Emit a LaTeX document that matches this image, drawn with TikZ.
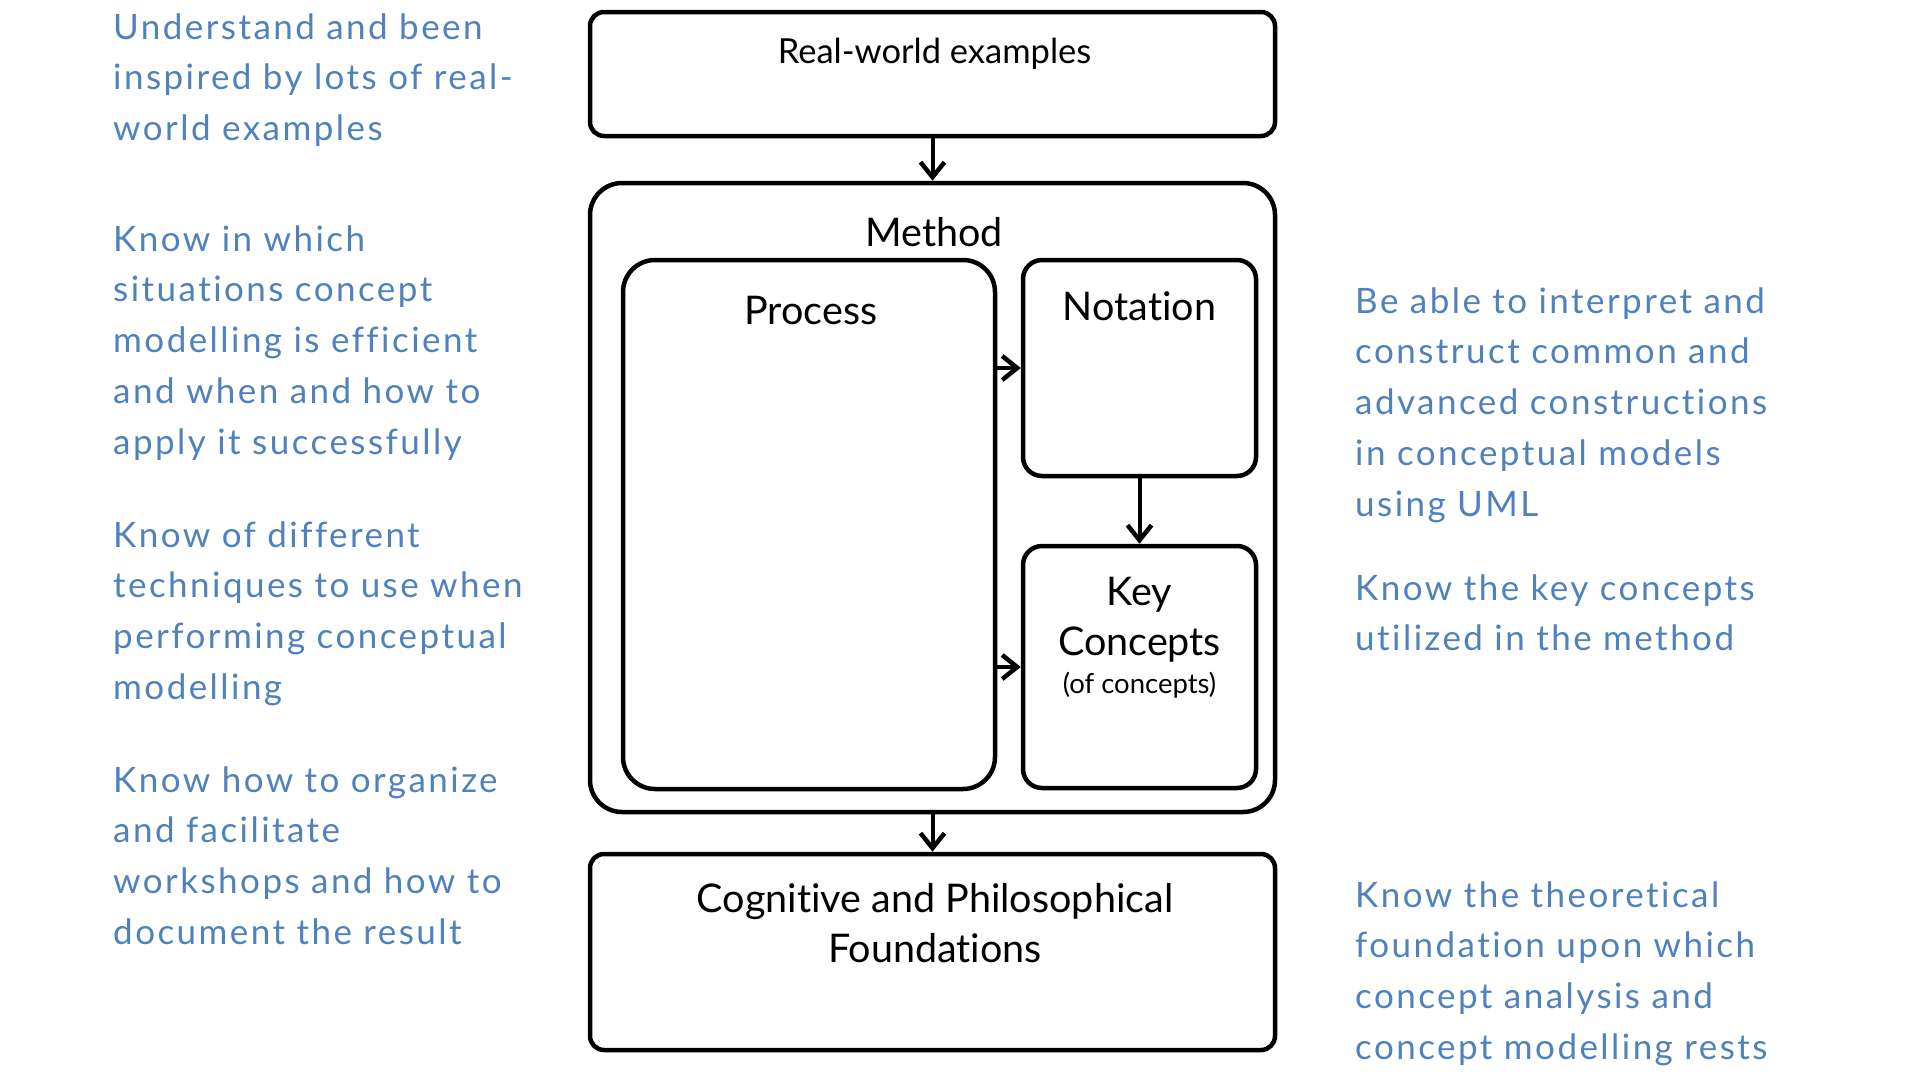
\documentclass[tikz,border=0pt]{standalone}
\usepackage{fontspec}
\setmainfont{Lato}[Ligatures=NoCommon]
\newfontfamily\bluefont{Lato}[Ligatures=NoCommon, LetterSpace=7]
\usetikzlibrary{arrows.meta}
\definecolor{txtblue}{RGB}{79,129,189}
\tikzset{
  boxbase/.style={draw=black, line width=4.5pt, rectangle, inner sep=0pt},
  bigbox/.style={boxbase, rounded corners=14pt},
  roundbox/.style={boxbase, rounded corners=32pt},
  smallbox/.style={boxbase, rounded corners=19pt},
  flow/.style={line width=4pt, -{Straight Barb[length=15pt,width=24pt,line width=4.5pt]}},
  bluetxt/.style={anchor=base west, align=left, inner sep=0pt, text=txtblue,
    font=\bluefont\fontsize{35}{50.8}\selectfont},
  lbl/.style={anchor=base, inner sep=0pt, text=black},
  biglbl/.style={lbl, font=\fontsize{39.5}{44}\selectfont},
}
\begin{document}
\begin{tikzpicture}[x=1pt,y=-1pt]
\useasboundingbox (0,0) rectangle (1908,1074);
% boxes
\node[bigbox, minimum width=685pt, minimum height=124pt] (rw) at (932.5,74) {};
\node[roundbox, minimum width=685pt, minimum height=629pt] (method) at (932.5,497.5) {};
\node[roundbox, minimum width=372pt, minimum height=529pt] (process) at (809,524.5) {};
\node[smallbox, minimum width=233pt, minimum height=216pt] (notation) at (1139.5,368) {};
\node[smallbox, minimum width=233pt, minimum height=242pt] (key) at (1139.5,667) {};
\node[bigbox, minimum width=685pt, minimum height=196pt] (cog) at (932.5,952) {};
% labels
\node[lbl, font=\fontsize{34.5}{38}\selectfont] (rwt) at (934.5,63) {Real-world examples};
\node[biglbl] (mt) at (934,246) {Method};
\node[biglbl] (pt) at (811,324) {Process};
\node[biglbl] (nt) at (1139.5,320) {Notation};
\node[biglbl] (kt1) at (1139.5,605) {Key};
\node[biglbl] (kt2) at (1139.5,655) {Concepts};
\node[lbl, font=\fontsize{27.5}{30}\selectfont] (kt3) at (1139.5,693) {(of concepts)};
\node[biglbl] (ct1) at (935,912) {Cognitive and Philosophical};
\node[biglbl] (ct2) at (935,962) {Foundations};
% connectors
\draw[flow] (rw.south) -- (method.north);
\draw[flow] (process.east |- notation.west) -- (notation.west);
\draw[flow] (process.east |- key.west) -- (key.west);
\draw[flow] (notation.south) -- (key.north);
\draw[flow] (method.south) -- (cog.north);
% blue texts (anchored at the baseline of the last line)
\node[bluetxt] (b1) at (113,140.6) {Understand and been\\inspired by lots of real-\\world examples};
\node[bluetxt] (b2) at (113,454.2) {Know in which\\situations concept\\modelling is efficient\\and when and how to\\apply it successfully};
\node[bluetxt] (b3) at (113,699.4) {Know of different\\techniques to use when\\performing conceptual\\modelling};
\node[bluetxt] (b4) at (113,944.4) {Know how to organize\\and facilitate\\workshops and how to\\document the result};
\node[bluetxt] (r1) at (1355,516.2) {Be able to interpret and\\construct common and\\advanced constructions\\in conceptual models\\using UML};
\node[bluetxt] (r2) at (1355,650.8) {Know the key concepts\\utilized in the method};
\node[bluetxt] (r3) at (1355,1059.4) {Know the theoretical\\foundation upon which\\concept analysis and\\concept modelling rests};
\end{tikzpicture}
\end{document}
